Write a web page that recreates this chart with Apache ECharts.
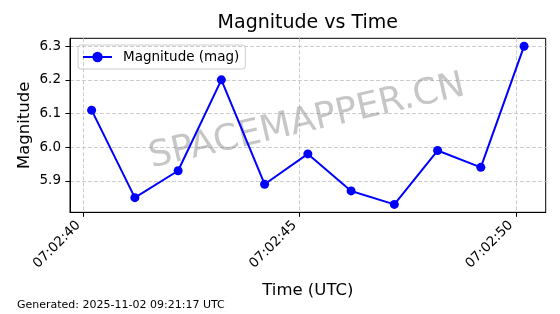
<!DOCTYPE html>
<html>
<head>
<meta charset="utf-8">
<script src="https://cdn.jsdelivr.net/npm/echarts@6/dist/echarts.min.js"></script>
<style>
html,body{margin:0;padding:0;background:#fff;}
#chart{width:560px;height:314px;}
</style>
</head>
<body>
<div id="chart"></div>
<script>
// ---- data ----
const times = ['07:02:40.19','07:02:41.19','07:02:42.19','07:02:43.19','07:02:44.19','07:02:45.19','07:02:46.19','07:02:47.19','07:02:48.19','07:02:49.19','07:02:50.19'];
const magnitudes = [6.11, 5.85, 5.93, 6.20, 5.89, 5.98, 5.87, 5.83, 5.99, 5.94, 6.30];
const xTickLabels = ['07:02:40','07:02:45','07:02:50'];
const yTickLabels = ['5.9','6.0','6.1','6.2','6.3'];
const seriesName = 'Magnitude (mag)';
const titleText = 'Magnitude vs Time';
const xName = 'Time (UTC)';
const yName = 'Magnitude';
const footerText = 'Generated: 2025-11-02 09:21:17 UTC';
const watermarkText = 'SPACEMAPPER.CN';

function toSec(s){ const p = s.split(':'); return (+p[0])*3600 + (+p[1])*60 + parseFloat(p[2]); }
function fmt(v){
  const t = Math.round(v);
  const h = Math.floor(t/3600), m = Math.floor((t%3600)/60), s = t%60;
  const pad = n => String(n).padStart(2,'0');
  return pad(h)+':'+pad(m)+':'+pad(s);
}
const xs = times.map(toSec);
const xTicks = xTickLabels.map(toSec);
const yTicks = yTickLabels.map(Number);
const xMin = Math.min(...xs), xMax = Math.max(...xs), xPad = (xMax-xMin)*0.05;
const yMin = Math.min(...magnitudes), yMax = Math.max(...magnitudes), yPad = (yMax-yMin)*0.05;

const FONT = 'DejaVu Sans';
const chart = echarts.init(document.getElementById('chart'), null, {renderer:'canvas'});
chart.setOption({
  animation: false,
  backgroundColor: '#fff',
  title: {
    text: titleText, left: 307.8, top: 14, textAlign: 'center', padding: 0,
    textStyle: {fontFamily: FONT, fontSize: 19, fontWeight: 'normal', color: '#000'}
  },
  legend: {
    left: 78, top: 45, orient: 'vertical',
    padding: [5, 6, 5, 4],
    borderColor: '#cccccc', borderWidth: 1, borderRadius: 3,
    itemWidth: 29, itemHeight: 13,
    textStyle: {fontFamily: FONT, fontSize: 13.5, color: '#000', padding: [0,0,0,6]},
    data: [seriesName]
  },
  grid: {
    left: 70, right: 14.3, top: 38.3, bottom: 101.7,
    show: true, borderColor: '#000', borderWidth: 1, backgroundColor: 'transparent'
  },
  xAxis: {
    type: 'value', min: xMin - xPad, max: xMax + xPad,
    name: xName, nameLocation: 'middle', nameGap: 70,
    nameTextStyle: {fontFamily: FONT, fontSize: 16.5, color: '#000'},
    axisLine: {show: true, onZero: false, lineStyle: {color: '#000', width: 1}},
    axisTick: {show: true, length: 4.5, customValues: xTicks, lineStyle: {color: '#000', width: 1}},
    axisLabel: {
      customValues: xTicks, rotate: 45, margin: 6, padding: [0, 7, 0, 0],
      fontFamily: FONT, fontSize: 13.5, color: '#000',
      formatter: v => fmt(v)
    },
    splitLine: {show: true, lineStyle: {color: '#cccccc', width: 1, type: [4, 2]}}
  },
  yAxis: {
    type: 'value', min: yMin - yPad, max: yMax + yPad,
    name: yName, nameLocation: 'middle', nameGap: 37, nameRotate: 90, nameMoveOverlap: false,
    nameTextStyle: {fontFamily: FONT, fontSize: 16.5, color: '#000'},
    axisLine: {show: true, onZero: false, lineStyle: {color: '#000', width: 1}},
    axisTick: {show: true, length: 4.5, customValues: yTicks, lineStyle: {color: '#000', width: 1}},
    axisLabel: {
      customValues: yTicks, margin: 9,
      fontFamily: FONT, fontSize: 13.5, color: '#000',
      formatter: v => v.toFixed(1)
    },
    splitLine: {show: true, lineStyle: {color: '#cccccc', width: 1, type: [4, 2]}}
  },
  series: [{
    name: seriesName, type: 'line',
    data: xs.map((x, i) => [x, magnitudes[i]]),
    color: '#0000ff',
    lineStyle: {color: '#0000ff', width: 2},
    itemStyle: {color: '#0000ff'},
    symbol: 'circle', symbolSize: 9, showSymbol: true,
    z: 5
  }],
  graphic: [
    {
      type: 'text', x: 307, y: 122, rotation: 13 * Math.PI / 180, z: 3, silent: true,
      style: {text: watermarkText, font: '36px "DejaVu Sans"', fill: 'rgba(128,128,128,0.45)', align: 'center', verticalAlign: 'middle'}
    },
    {
      type: 'text', left: 17, top: 300,
      style: {text: footerText, font: '11px "DejaVu Sans"', fill: '#000'}
    }
  ]
});
</script>
</body>
</html>
